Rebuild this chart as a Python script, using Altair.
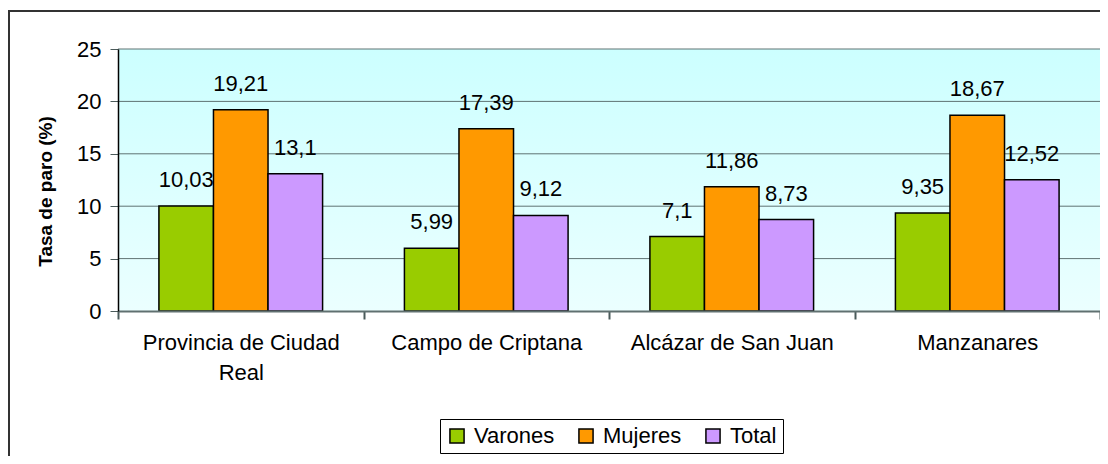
import altair as alt
import pandas as pd

categories = ["Provincia de Ciudad Real", "Campo de Criptana", "Alcázar de San Juan", "Manzanares"]
series = ["Varones", "Mujeres", "Total"]
varones = [10.03, 5.99, 7.1, 9.35]
mujeres = [19.21, 17.39, 11.86, 18.67]
total = [13.1, 9.12, 8.73, 12.52]
y_ticks = [0, 5, 10, 15, 20, 25]
grid_values = [5, 10, 15, 20, 25]
colors = ["#99CC00", "#FF9900", "#CC99FF"]

rows = []
for s, vals in zip(series, [varones, mujeres, total]):
    for c, v in zip(categories, vals):
        rows.append({"cat": c, "serie": s, "val": v, "label": str(v).replace(".", ",")})
df = pd.DataFrame(rows)

W, H = 982, 262
FONT = "Liberation Sans"
FS = 22

xenc = alt.X("cat:N", sort=categories,
             scale=alt.Scale(paddingInner=0, paddingOuter=0),
             axis=alt.Axis(title=None, labelAngle=0, tickBand="extent", labelFontSize=FS,
                           labelColor="black", labelFont=FONT, labelLimit=0,
                           labelExpr="datum.value == 'Provincia de Ciudad Real' ? ['Provincia de Ciudad', 'Real'] : datum.value",
                           labelLineHeight=30, labelPadding=13, tickSize=8,
                           tickColor="#4a5a5a", tickWidth=2, domainColor="#607070", domainWidth=2,
                           grid=False, zindex=1))
xoff = alt.XOffset("serie:N", sort=series, scale=alt.Scale(paddingInner=0, paddingOuter=0.75))
yenc = alt.Y("val:Q", scale=alt.Scale(domain=[0, 25], nice=False),
             axis=alt.Axis(values=y_ticks, grid=False, tickSize=8, tickColor="#4a5a5a",
                           domainColor="black", domainWidth=1.5, labelFontSize=FS,
                           labelColor="black", labelFont=FONT, labelPadding=9,
                           title="Tasa de paro (%)", titleFontSize=19, titleFontWeight="bold",
                           titleFont=FONT, titleColor="black", titleAngle=270,
                           titleAlign="center", titleBaseline="middle", titleX=-73, titleY=142,
                           zindex=1))

bg = alt.Chart(alt.Data(values=[{}])).mark_rect(
    fill=alt.LinearGradient(gradient="linear", x1=0, x2=0, y1=0, y2=1,
                            stops=[alt.GradientStop(color="#CCFFFF", offset=0),
                                   alt.GradientStop(color="#EBFFFF", offset=1)])
).encode(x=alt.value(0), x2=alt.value(W), y=alt.value(0), y2=alt.value(H))

border = alt.Chart(alt.Data(values=[{}])).mark_rect(
    fill=None, stroke="#333333", strokeWidth=2
).encode(x=alt.value(-109), x2=alt.value(W + 100), y=alt.value(-38), y2=alt.value(H + 300))

grid = alt.Chart(pd.DataFrame({"val": grid_values})).mark_rule(
    color="#5f7373", strokeWidth=1
).encode(x=alt.value(0), x2=alt.value(W), y=alt.Y("val:Q", scale=alt.Scale(domain=[0, 25], nice=False)))

base = alt.Chart(df)
bars = base.mark_bar(stroke="black", strokeWidth=1.5).encode(
    x=xenc, xOffset=xoff, y=yenc,
    color=alt.Color("serie:N", sort=series, scale=alt.Scale(domain=series, range=colors),
                    legend=alt.Legend(title=None, orient="none", legendX=322, legendY=370,
                                      direction="horizontal", strokeColor="#000000",
                                      fillColor="white", padding=6, symbolType="square",
                                      symbolSize=200, symbolStrokeColor="black",
                                      symbolStrokeWidth=1.5, symbolOpacity=1,
                                      labelFontSize=FS, labelFont=FONT, labelColor="black",
                                      columnPadding=20, labelOffset=6))
)
texts = base.mark_text(baseline="alphabetic", dy=-19, fontSize=FS, font=FONT, color="black").encode(
    x=alt.X("cat:N", sort=categories), xOffset=alt.XOffset("serie:N", sort=series),
    y=alt.Y("val:Q"), text="label:N"
)

chart = alt.layer(bg, border, grid, bars, texts).properties(
    width=W, height=H,
    autosize=alt.AutoSizeParams(type="none"),
    padding={"left": 110, "top": 41, "right": 0, "bottom": 145}
).configure_view(stroke=None).configure(font=FONT)

chart.save("out.html", embed_options={"renderer": "svg", "actions": False})
